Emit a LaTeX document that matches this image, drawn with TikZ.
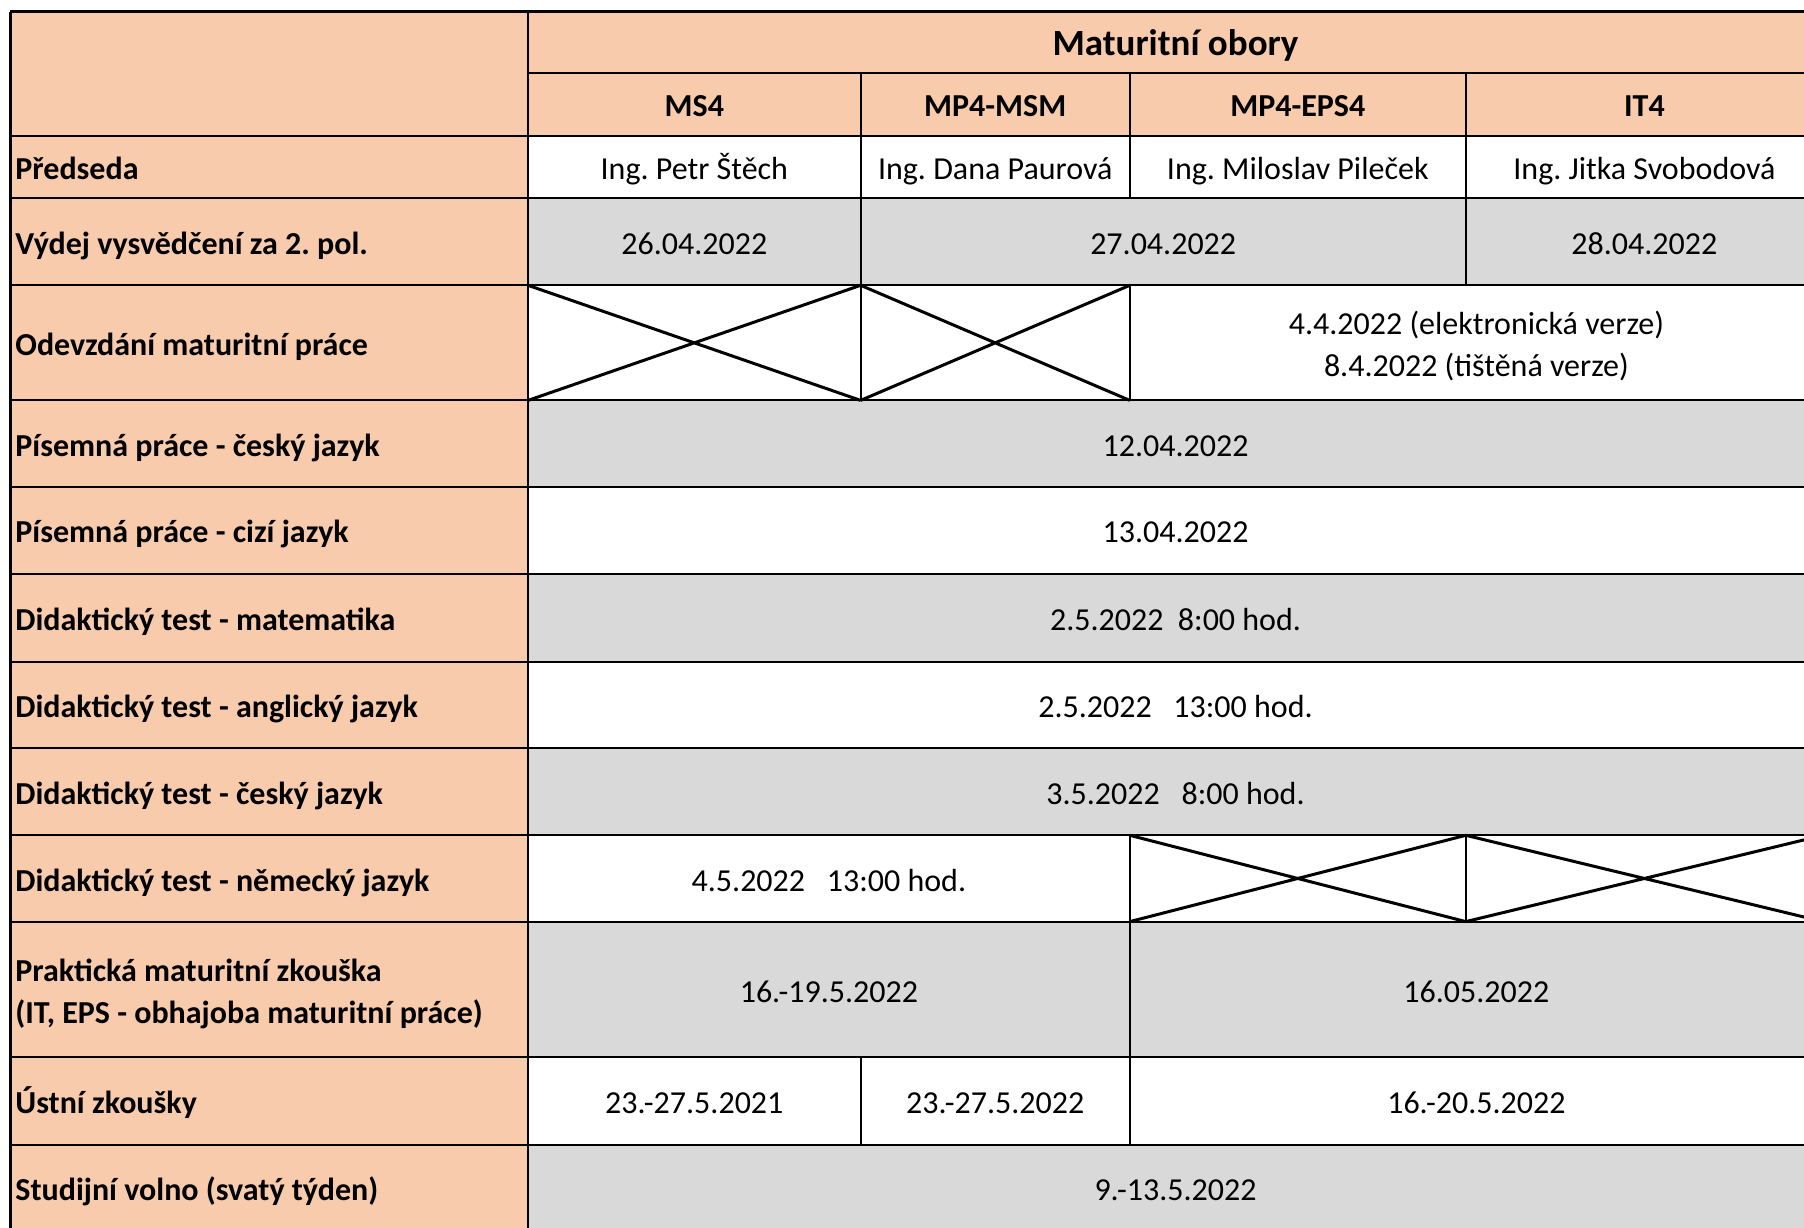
\documentclass[tikz,border=0pt]{standalone}
\usepackage{fontspec}
\setmainfont{Carlito}
\frenchspacing
\usetikzlibrary{positioning}
\definecolor{peach}{HTML}{F8CBAD}
\definecolor{cellgrey}{HTML}{D9D9D9}

\begin{document}
\begin{tikzpicture}[x=0.5pt,y=-0.5pt,
    datecell/.style={font=\fontsize{16}{21}\selectfont, anchor=base, align=center, inner sep=0pt, yshift=-1.25pt},
    rowlabel/.style={font=\fontsize{16}{21}\selectfont\bfseries, anchor=base west, align=left, inner sep=0pt, yshift=-1.25pt},
    colhead/.style={font=\fontsize{16}{21}\selectfont\bfseries, anchor=base, inner sep=0pt, yshift=-1pt},
    tabline/.style={line width=1pt},
    xline/.style={line width=1.5pt}]

    \clip (0,0) rectangle (1804,1227);

    % fills
    \fill[peach] (10.4,11.5) rectangle (528,1240);
    \fill[peach] (528,11.5) rectangle (1823,135.8);
    \fill[cellgrey] (528,197.9) rectangle (1823,285.3);
    \fill[cellgrey] (528,400.4) rectangle (1823,486.7);
    \fill[cellgrey] (528,574.1) rectangle (1823,661.5);
    \fill[cellgrey] (528,747.8) rectangle (1823,835.3);
    \fill[cellgrey] (528,921.6) rectangle (1823,1057.3);
    \fill[cellgrey] (528,1144.8) rectangle (1823,1240);

    % grid
    \foreach \y in {135.8,197.9,285.3,400.4,486.7,574.1,661.5,747.8,835.3,921.6,1057.3,1144.8}
        \draw[tabline] (10.4,\y) -- (1823,\y);
    \draw[tabline] (528,72.5) -- (1823,72.5);
    \draw[xline] (10.4,11.5) -- (1823,11.5);
    \draw[xline] (10.4,11.5) -- (10.4,1240);
    \draw[tabline] (528,11.5) -- (528,1240);
    \draw[tabline] (860.6,72.5) -- (860.6,400.4);
    \draw[tabline] (860.6,1057.3) -- (860.6,1144.8);
    \draw[tabline] (1129.8,72.5) -- (1129.8,197.9);
    \draw[tabline] (1129.8,285.3) -- (1129.8,400.4);
    \draw[tabline] (1129.8,835.3) -- (1129.8,1144.8);
    \draw[tabline] (1465.8,72.5) -- (1465.8,285.3);
    \draw[tabline] (1465.8,835.3) -- (1465.8,921.6);

    % crossed cells
    \draw[xline] (528,285.3) -- (860.6,400.4) (528,400.4) -- (860.6,285.3);
    \draw[xline] (860.6,285.3) -- (1129.8,400.4) (860.6,400.4) -- (1129.8,285.3);
    \draw[xline] (1129.8,835.3) -- (1465.8,921.6) (1129.8,921.6) -- (1465.8,835.3);
    \draw[xline] (1465.8,835.3) -- (1823,921.6) (1465.8,921.6) -- (1823,835.3);

    % header
    \node[colhead, font=\fontsize{18.5}{22}\selectfont\bfseries] (obory) at (1175.5,53) {Maturitní obory};
    \node[colhead] (ms) at (694.3,114.2) {MS4};
    \node[colhead] (msm) at (995.2,114.2) {MP4-MSM};
    \node[colhead] (eps) at (1297.8,114.2) {MP4-EPS4};
    \node[colhead] (it) at (1644.4,114.2) {IT4};

    % row labels
    \node[rowlabel] (predseda) at (15,176.9) {Předseda};
    \node[rowlabel] (vydej) at (15,251.6) {Výdej vysvědčení za 2. pol.};
    \node[rowlabel] (odevzdani) at (15,352.9) {Odevzdání maturitní práce};
    \node[rowlabel] (pisemnaCJ) at (15,453.6) {Písemná práce - český jazyk};
    \node[rowlabel] (pisemnaCizi) at (15,540.4) {Písemná práce - cizí jazyk};
    \node[rowlabel] (testMat) at (15,627.8) {Didaktický test - matematika};
    \node[rowlabel] (testAJ) at (15,714.7) {Didaktický test - anglický jazyk};
    \node[rowlabel] (testCJ) at (15,801.6) {Didaktický test - český jazyk};
    \node[rowlabel] (testNJ) at (15,888.5) {Didaktický test - německý jazyk};
    \node[rowlabel] (prakticka) at (15,1020.5) {Praktická maturitní zkouška\\(IT, EPS - obhajoba maturitní práce)};
    \node[rowlabel] (ustni) at (15,1111) {Ústní zkoušky};
    \node[rowlabel] (volno) at (15,1197.9) {Studijní volno (svatý týden)};

    % data
    \node[datecell] (predMS) at (694.3,176.9) {Ing. Petr Štěch};
    \node[datecell] (predMSM) at (995.2,176.9) {Ing. Dana Paurová};
    \node[datecell] (predEPS) at (1297.8,176.9) {Ing. Miloslav Pileček};
    \node[datecell] (predIT) at (1644.4,176.9) {Ing. Jitka Svobodová};
    \node[datecell] (vydejMS) at (694.3,251.6) {26.04.2022};
    \node[datecell] (vydejMid) at (1163.2,251.6) {27.04.2022};
    \node[datecell] (vydejIT) at (1644.4,251.6) {28.04.2022};
    \node[datecell] (odevzdaniEPS) at (1476.4,373.9) {4.4.2022 (elektronická verze)\\8.4.2022 (tištěná verze)};
    \node[datecell] (pisemnaCJd) at (1175.5,453.6) {12.04.2022};
    \node[datecell] (pisemnaCizid) at (1175.5,540.4) {13.04.2022};
    \node[datecell] (testMatd) at (1175.5,627.8) {2.5.2022\ \ 8:00 hod.};
    \node[datecell] (testAJd) at (1175.5,714.7) {2.5.2022\ \ \ 13:00 hod.};
    \node[datecell] (testCJd) at (1175.5,801.6) {3.5.2022\ \ \ 8:00 hod.};
    \node[datecell] (testNJd) at (828.9,888.5) {4.5.2022\ \ \ 13:00 hod.};
    \node[datecell] (praktickaMS) at (828.9,999.5) {16.-19.5.2022};
    \node[datecell] (praktickaEPS) at (1476.4,999.5) {16.05.2022};
    \node[datecell] (ustniMS) at (694.3,1111) {23.-27.5.2021};
    \node[datecell] (ustniMSM) at (995.2,1111) {23.-27.5.2022};
    \node[datecell] (ustniEPS) at (1476.4,1111) {16.-20.5.2022};
    \node[datecell] (volnod) at (1175.5,1197.9) {9.-13.5.2022};

\end{tikzpicture}
\end{document}
